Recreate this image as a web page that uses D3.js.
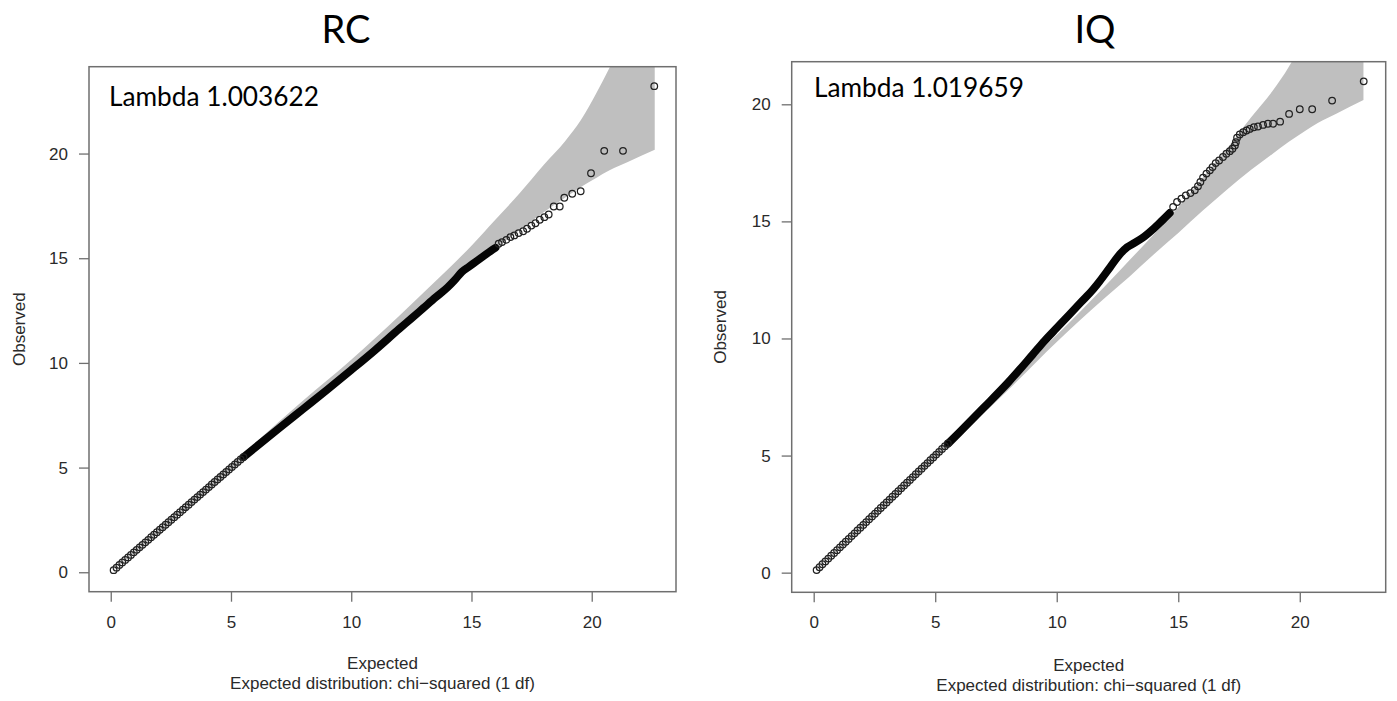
<!DOCTYPE html>
<html>
<head>
<meta charset="utf-8">
<script src="https://cdn.jsdelivr.net/npm/d3@7"></script>
<style>
  body { margin: 0; background: #fff; }
</style>
</head>
<body>
<div id="chart"></div>
<script>
// titles and tick labels
const panelTitles = ["RC", "IQ"];
const lambdaLabels = ["Lambda 1.003622", "Lambda 1.019659"];
const xTicks = [0, 5, 10, 15, 20];
const yTicks = [0, 5, 10, 15, 20];

// thinned low end of the qq plot (expected quantiles shared by both traits)
const lowExpected = [0.12, 0.24, 0.36, 0.48, 0.60, 0.72, 0.84, 0.96, 1.08, 1.20, 1.32, 1.44, 1.56, 1.68, 1.80, 1.92,
  2.04, 2.16, 2.28, 2.40, 2.52, 2.64, 2.76, 2.88, 3.00, 3.12, 3.24, 3.36, 3.48, 3.60, 3.72, 3.84, 3.96, 4.08, 4.20,
  4.32, 4.44, 4.56, 4.68, 4.80, 4.92, 5.04, 5.16, 5.28, 5.40, 5.52];
const rcLowObserved = [0.10, 0.22, 0.35, 0.47, 0.59, 0.71, 0.83, 0.95, 1.07, 1.19, 1.31, 1.43, 1.55, 1.67, 1.79, 1.91,
  2.03, 2.15, 2.27, 2.39, 2.51, 2.63, 2.75, 2.87, 2.99, 3.11, 3.23, 3.35, 3.47, 3.59, 3.71, 3.83, 3.95, 4.07, 4.19,
  4.31, 4.43, 4.55, 4.67, 4.79, 4.91, 5.03, 5.15, 5.27, 5.39, 5.50];
const iqLowObserved = [0.11, 0.23, 0.36, 0.48, 0.60, 0.72, 0.84, 0.96, 1.08, 1.20, 1.32, 1.44, 1.56, 1.68, 1.80, 1.92,
  2.04, 2.16, 2.28, 2.40, 2.52, 2.64, 2.76, 2.88, 3.00, 3.12, 3.24, 3.36, 3.48, 3.60, 3.72, 3.84, 3.96, 4.08, 4.20,
  4.32, 4.44, 4.56, 4.68, 4.80, 4.92, 5.04, 5.16, 5.28, 5.40, 5.52];

// dense (unthinned) middle part, where the circles merge into a solid band
const rcDenseExpected = [5.52, 6, 7, 8, 9, 10, 11, 12, 12.5, 13, 13.5, 14, 14.3, 14.6, 14.9, 15.2, 15.5, 15.8, 16.0];
const rcDenseObserved = [5.50, 5.95, 6.88, 7.80, 8.72, 9.66, 10.62, 11.63, 12.12, 12.62, 13.12, 13.6, 13.95, 14.35, 14.6, 14.85, 15.1, 15.35, 15.5];
const iqDenseExpected = [5.52, 6, 7, 8, 9, 9.5, 10, 10.5, 11, 11.5, 11.77, 12.2, 12.6, 12.9, 13.2, 13.6, 14.0, 14.3, 14.65];
const iqDenseObserved = [5.50, 6.0, 7.05, 8.12, 9.3, 9.9, 10.45, 11.0, 11.55, 12.1, 12.45, 13.05, 13.6, 13.9, 14.08, 14.35, 14.7, 15.0, 15.36];

// separate points in the upper tail
const rcTailExpected = [16.13, 16.27, 16.45, 16.62, 16.78, 16.96, 17.15, 17.31, 17.49, 17.66, 17.84, 18.03, 18.21,
  18.42, 18.67, 18.86, 19.19, 19.54, 19.97, 20.52, 21.30, 22.60];
const rcTailObserved = [15.69, 15.77, 15.88, 16.01, 16.09, 16.20, 16.29, 16.41, 16.56, 16.67, 16.84, 16.96, 17.09,
  17.47, 17.47, 17.89, 18.08, 18.20, 19.06, 20.13, 20.13, 23.22];
const iqTailExpected = [14.79, 14.95, 15.13, 15.31, 15.50, 15.68, 15.81, 15.91, 16.02, 16.16, 16.30, 16.41, 16.54,
  16.68, 16.84, 16.98, 17.12, 17.23, 17.33, 17.37, 17.42, 17.53, 17.67, 17.81, 17.94, 18.11, 18.28, 18.49, 18.69,
  18.90, 19.19, 19.56, 20.0, 20.51, 21.33, 22.63];
const iqTailObserved = [15.62, 15.83, 15.97, 16.11, 16.21, 16.33, 16.50, 16.68, 16.87, 17.04, 17.18, 17.32, 17.49,
  17.60, 17.75, 17.89, 18.00, 18.10, 18.24, 18.38, 18.57, 18.71, 18.81, 18.88, 18.95, 19.02, 19.05, 19.12, 19.17,
  19.17, 19.26, 19.59, 19.79, 19.79, 20.16, 20.98];

// 95% concentration band (same number of tests in both panels)
const bandExpected = [0.1, 5, 8, 10, 12, 13, 14, 15, 16, 17, 18, 18.9, 19.55, 20.2, 20.74, 21.5, 22.62];
const bandUpper = [0.12, 5.15, 8.2, 10.15, 12.25, 13.35, 14.45, 15.6, 16.85, 18.1, 19.45, 20.6, 21.6, 22.9, 24.1, 26.0, 29];
const bandLower = [0.08, 4.85, 7.8, 9.85, 11.75, 12.65, 13.6, 14.5, 15.45, 16.35, 17.2, 17.9, 18.4, 18.85, 19.2, 19.6, 20.18];

const zip = (xs, ys) => xs.map((v, i) => ({e: v, o: ys[i]}));

const panels = [
  {title: panelTitles[0], lambda: lambdaLabels[0],
   low: zip(lowExpected, rcLowObserved), dense: zip(rcDenseExpected, rcDenseObserved), tail: zip(rcTailExpected, rcTailObserved),
   box: {l: 89, r: 676, t: 66.7, b: 591.7}, titleX: 346, ylabX: 19, lambdaX: 109, lambdaY: 106,
   xlabY: 669, subY: 689},
  {title: panelTitles[1], lambda: lambdaLabels[1],
   low: zip(lowExpected, iqLowObserved), dense: zip(iqDenseExpected, iqDenseObserved), tail: zip(iqTailExpected, iqTailObserved),
   box: {l: 791.7, r: 1385.7, t: 61.7, b: 592.3}, titleX: 1095, ylabX: 720, lambdaX: 814, lambdaY: 97,
   xlabY: 671, subY: 691}
];
const band = bandExpected.map((v, i) => ({e: v, lo: bandLower[i], hi: bandUpper[i]}));

const W = 1397, H = 701;
const svg = d3.select("#chart").append("svg")
  .attr("width", W).attr("height", H)
  .style("font-family", "'Liberation Sans', Arial, sans-serif");

const axisCol = "#6f6f6f", textCol = "#2a2a2a";

panels.forEach((p, pi) => {
  const all = p.low.concat(p.dense, p.tail);
  const xMax = d3.max(all, d => d.e), yMax = d3.max(all, d => d.o);
  // R style 4% padding around the data range
  const x = d3.scaleLinear().domain([-0.04 * xMax, xMax * 1.04]).range([p.box.l, p.box.r]);
  const y = d3.scaleLinear().domain([-0.04 * yMax, yMax * 1.04]).range([p.box.b, p.box.t]);

  const g = svg.append("g");
  const clipId = "clip" + pi;
  svg.append("clipPath").attr("id", clipId)
    .append("rect")
    .attr("x", p.box.l).attr("y", p.box.t)
    .attr("width", p.box.r - p.box.l).attr("height", p.box.b - p.box.t);

  const plot = g.append("g").attr("clip-path", `url(#${clipId})`);

  // concentration band
  const area = d3.area()
    .x(d => x(d.e))
    .y0(d => y(d.lo))
    .y1(d => y(d.hi))
    .curve(d3.curveMonotoneX);
  plot.append("path")
    .datum(band)
    .attr("d", area)
    .attr("fill", "#bfbfbf");

  // dense band of overlapping circles
  const line = d3.line().x(d => x(d.e)).y(d => y(d.o)).curve(d3.curveMonotoneX);
  plot.append("path")
    .datum(p.dense)
    .attr("d", line)
    .attr("fill", "none")
    .attr("stroke", "#050505")
    .attr("stroke-width", 7.8)
    .attr("stroke-linecap", "round")
    .attr("stroke-linejoin", "round");

  // circles
  plot.append("g")
    .selectAll("circle")
    .data(p.low.concat(p.tail))
    .join("circle")
      .attr("cx", d => x(d.e))
      .attr("cy", d => y(d.o))
      .attr("r", 3.3)
      .attr("fill", "none")
      .attr("stroke", "#222")
      .attr("stroke-width", 1.25);

  // axes
  const xAxis = g.append("g")
    .attr("transform", `translate(0, ${p.box.b})`)
    .call(d3.axisBottom(x).tickValues(xTicks).tickSize(10).tickPadding(14));
  const yAxis = g.append("g")
    .attr("transform", `translate(${p.box.l}, 0)`)
    .call(d3.axisLeft(y).tickValues(yTicks).tickSize(10).tickPadding(11));
  [xAxis, yAxis].forEach(a => {
    a.select(".domain").remove();
    a.selectAll(".tick line").attr("stroke", axisCol).attr("stroke-width", 1.3);
    a.selectAll(".tick text")
      .attr("fill", textCol)
      .style("font-family", "'Liberation Sans', Arial, sans-serif")
      .style("font-size", "17px");
  });

  // box
  g.append("rect")
    .attr("x", p.box.l).attr("y", p.box.t)
    .attr("width", p.box.r - p.box.l).attr("height", p.box.b - p.box.t)
    .attr("fill", "none")
    .attr("stroke", axisCol)
    .attr("stroke-width", 1.5);

  // axis titles
  const cx = (p.box.l + p.box.r) / 2;
  g.append("text")
    .attr("x", cx).attr("y", p.xlabY)
    .attr("text-anchor", "middle")
    .attr("fill", textCol)
    .style("font-size", "17px")
    .text("Expected");
  g.append("text")
    .attr("x", cx).attr("y", p.subY)
    .attr("text-anchor", "middle")
    .attr("fill", textCol)
    .style("font-size", "17px")
    .text("Expected distribution: chi\u2212squared (1 df)");
  g.append("text")
    .attr("transform", `translate(${p.ylabX}, ${(p.box.t + p.box.b) / 2}) rotate(-90)`)
    .attr("text-anchor", "middle")
    .attr("dy", "0.35em")
    .attr("fill", textCol)
    .style("font-size", "17px")
    .text("Observed");

  // panel title
  g.append("text")
    .attr("x", p.titleX).attr("y", 43)
    .attr("text-anchor", "middle")
    .attr("fill", "#000")
    .style("font-family", "Lato, 'Open Sans', sans-serif")
    .style("font-size", "38px")
    .text(p.title);

  // lambda note, sized to its width in the original
  const lt = g.append("text")
    .attr("x", p.lambdaX).attr("y", p.lambdaY)
    .attr("fill", "#000")
    .style("font-family", "Lato, 'Open Sans', sans-serif")
    .style("font-size", "26px")
    .text(p.lambda);
  const w = lt.node().getComputedTextLength();
  lt.style("font-size", (26 * 210 / w).toFixed(2) + "px");
});
</script>
</body>
</html>
